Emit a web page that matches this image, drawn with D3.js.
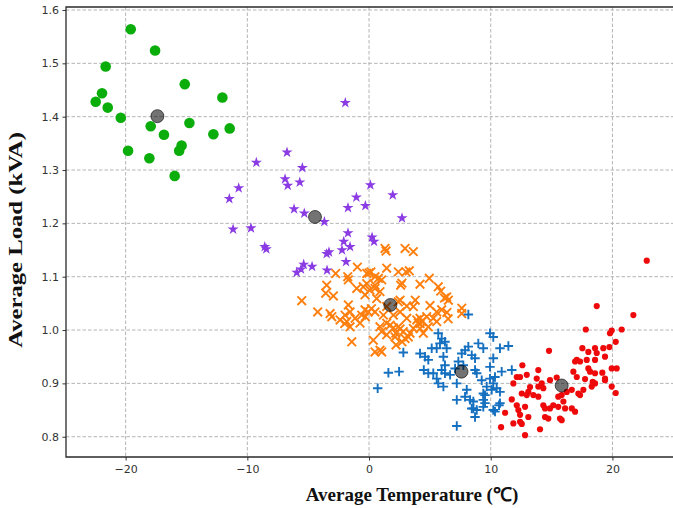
<!DOCTYPE html>
<html>
<head>
<meta charset="utf-8"/>
<title>Average load vs temperature clusters</title>
<script src="https://d3js.org/d3.v7.min.js"></script>
<style>
  body { margin: 0; background: #fff; }
  .tick text { font-family: "DejaVu Sans", sans-serif; font-size: 11px; fill: #333; }
  .axlabel { font-family: "Liberation Serif", "Times New Roman", serif; font-weight: bold; font-size: 19px; fill: #111; }
</style>
</head>
<body>
<svg width="673" height="508"></svg>
<script>
// tick values
var xTicks = [-20, -10, 0, 10, 20];
var yTicks = [0.8, 0.9, 1.0, 1.1, 1.2, 1.3, 1.4, 1.5, 1.6];

// cluster points [temperature, load]
var greenPts = [[-19.58,1.564],[-17.58,1.524],[-21.64,1.494],[-15.14,1.461],[-12.05,1.436],[-21.94,1.444],
  [-22.46,1.428],[-21.47,1.417],[-20.40,1.398],[-17.94,1.382],[-14.76,1.388],[-16.85,1.366],[-12.79,1.367],
  [-11.45,1.378],[-15.40,1.346],[-15.60,1.336],[-19.80,1.336],[-18.05,1.322],[-15.97,1.289]];

var purplePts = [[-1.95,1.426],[-6.74,1.333],[-9.26,1.314],[-5.48,1.304],[-6.90,1.283],[-6.68,1.271],[-5.69,1.277],
  [-10.71,1.266],[-11.48,1.246],[0.11,1.272],[1.95,1.253],[-1.04,1.249],[-0.30,1.233],[-1.73,1.229],[-6.16,1.227],
  [-5.32,1.219],[-3.67,1.203],[2.71,1.210],[-11.17,1.189],[-9.70,1.191],[-1.73,1.182],[-2.08,1.166],[-1.56,1.156],
  [-2.22,1.150],[0.25,1.174],[0.41,1.166],[-8.57,1.156],[-8.44,1.152],[-3.48,1.143],[-3.29,1.146],[-1.89,1.128],
  [-5.37,1.123],[-4.68,1.119],[-5.59,1.114],[-5.94,1.108],[-3.45,1.112]];

var orangePts = [[-0.96,1.118],[-2.74,1.106],[-1.75,1.100],[-1.70,1.094],[-1.01,1.078],[-0.19,1.106],[0.16,1.109],
  [0.49,1.100],[-3.48,1.084],[-3.56,1.069],[-2.93,1.064],[-5.53,1.055],[-0.33,1.066],[0.08,1.075],[0.49,1.084],
  [0.90,1.072],[0.63,1.059],[-1.70,1.047],[-4.22,1.034],[-3.20,1.031],[-3.06,1.025],[-1.97,1.028],[-1.56,1.034],
  [-0.33,1.038],[-0.06,1.034],[0.49,1.034],[-2.38,1.019],[-1.83,1.016],[-1.56,1.006],[-1.15,1.022],[-0.60,1.028],
  [-1.42,0.978],[0.35,0.981],[0.49,0.959],[0.90,0.962],[1.04,0.997],
  [1.31,1.153],[1.40,1.148],[2.96,1.153],[3.64,1.147],[1.45,1.116],[2.41,1.109],[3.31,1.111],[1.04,1.094],
  [2.60,1.084],[4.19,1.086],[4.95,1.097],[5.69,1.081],[5.89,1.073],[6.38,1.062],[6.52,1.056],[2.55,1.056],
  [3.64,1.044],[5.01,1.046],[5.56,1.034],[5.97,1.038],[7.62,1.041],[7.62,1.031],[1.45,1.044],[1.18,1.028],
  [2.00,1.028],[2.55,1.034],[3.10,1.022],[4.19,1.022],[4.05,1.013],[4.33,1.016],[4.74,1.025],[5.28,1.022],
  [1.73,1.009],[2.41,1.006],[2.82,0.997],[3.37,0.994],[3.64,1.003],[1.45,0.991],[2.14,0.987],[2.96,0.984],
  [1.04,0.959],[4.87,1.006],[2.22,0.972],[2.71,0.978],[5.56,1.016],
  [6.40,1.033],[6.50,1.021],[6.20,1.060],[3.92,1.019],[4.19,1.003],[3.23,0.987],[4.46,0.994],[4.20,1.012],
  [0.90,1.006],[1.45,1.013],[2.00,1.004],[2.55,1.002],[2.20,0.994],[-0.74,1.013],[-2.00,1.012],[0.20,1.040],
  [-0.30,1.025],[2.40,1.053],[3.10,1.045],[3.80,1.056],[2.70,1.088],[0.77,1.097],[-0.19,1.087],[-0.47,1.081],
  [0.49,1.078],[0.00,1.107],[3.04,1.109]];

var bluePts = [[5.69,0.994],[5.97,0.984],[6.24,0.978],[5.83,0.975],[5.56,0.966],[2.82,0.958],[4.19,0.956],
  [4.60,0.950],[4.87,0.944],[5.15,0.966],[6.38,0.966],[6.11,0.950],[1.59,0.920],[2.47,0.922],[0.71,0.891],
  [4.87,0.919],[5.28,0.919],[5.56,0.909],[5.97,0.925],[6.24,0.919],[6.66,0.916],[6.24,0.934],[7.07,0.928],
  [5.69,0.900],[6.11,0.894],[7.21,0.900],[8.03,0.888],[7.75,0.934],[7.89,0.962],[8.16,0.969],[7.62,0.956],
  [7.34,0.941],[8.44,0.953],[8.98,0.975],[9.39,0.966],[8.71,0.947],[8.71,0.925],[8.85,0.919],[9.26,0.906],
  [9.94,0.994],[10.21,0.987],[9.94,0.931],[10.21,0.947],[10.35,0.912],[9.67,0.894],[7.89,0.875],[8.30,0.869],
  [8.57,0.866],[7.21,0.869],[9.39,0.869],[9.53,0.878],[8.44,0.853],[8.85,0.850],[8.71,0.837],[9.39,0.856],
  [10.21,0.850],[10.08,0.888],[7.21,0.820],[8.16,1.029],[11.45,0.970],[11.73,0.925],[10.90,0.922],[10.76,0.966],
  [9.94,0.909],[10.21,0.900],[10.49,0.891],[10.76,0.884],[9.39,0.881],[9.53,0.863],[10.76,0.863],[8.57,0.853],
  [10.68,0.859],[4.50,0.925],[10.35,0.847]];

var redPts = [[18.71,1.045],[21.72,1.028],[17.81,1.001],[19.80,0.994],[19.94,0.999],[20.76,1.001],[20.27,0.978],
  [14.79,0.961],[17.53,0.966],[18.02,0.959],[18.57,0.966],[18.71,0.957],[19.25,0.966],[19.75,0.968],[19.39,0.950],
  [17.07,0.944],[16.93,0.941],[17.34,0.941],[17.89,0.944],[18.57,0.944],[19.94,0.928],[20.35,0.928],[16.79,0.922],
  [18.02,0.928],[18.16,0.922],[18.57,0.919],[19.17,0.920],[19.39,0.909],[19.39,0.906],[17.07,0.912],[17.75,0.908],
  [18.38,0.903],[18.57,0.900],[12.60,0.934],[13.91,0.925],[12.14,0.912],[12.41,0.912],[12.96,0.916],[13.78,0.909],
  [14.87,0.906],[15.42,0.911],[11.86,0.900],[13.23,0.893],[13.09,0.884],[13.91,0.894],[14.32,0.891],[14.19,0.900],
  [12.55,0.881],[12.96,0.878],[13.50,0.878],[13.91,0.875],[11.73,0.870],[16.25,0.884],[16.66,0.888],[17.20,0.881],
  [17.34,0.878],[17.61,0.888],[18.30,0.894],[19.94,0.894],[20.27,0.882],[15.55,0.875],[15.83,0.878],[15.97,0.866],
  [12.14,0.859],[12.27,0.850],[12.82,0.856],[14.32,0.859],[14.46,0.853],[14.87,0.853],[15.14,0.859],[15.55,0.856],
  [16.11,0.853],[16.66,0.853],[16.93,0.847],[11.18,0.845],[12.41,0.841],[13.09,0.837],[14.46,0.837],[14.73,0.834],
  [15.69,0.834],[15.83,0.831],[11.86,0.825],[12.55,0.824],[12.41,0.828],[10.85,0.818],[14.05,0.814],[12.82,0.803],
  [22.82,1.130]];

// cluster centres
var centres = [[-17.39,1.401],[-4.44,1.212],[1.75,1.047],[7.60,0.922],[15.83,0.896]];

var svg = d3.select("svg");
var plotL = 66, plotR = 674.5, plotT = 7, plotB = 457;

var xs = d3.scaleLinear().domain([-24.9, 25.1]).range([plotL, plotR]);
var ys = d3.scaleLinear().domain([0.762, 1.6056]).range([plotB, plotT]);

// grid
var grid = svg.append("g");
grid.selectAll(".gx").data(xTicks).enter().append("line")
  .attr("x1", function(d){ return xs(d); }).attr("x2", function(d){ return xs(d); })
  .attr("y1", plotT).attr("y2", plotB)
  .attr("stroke", "#b4b4b4").attr("stroke-dasharray", "3.5,2").attr("stroke-width", 1);
grid.selectAll(".gy").data(yTicks).enter().append("line")
  .attr("y1", function(d){ return ys(d); }).attr("y2", function(d){ return ys(d); })
  .attr("x1", plotL).attr("x2", plotR)
  .attr("stroke", "#b4b4b4").attr("stroke-dasharray", "3.5,2").attr("stroke-width", 1);

// markers
var g = svg.append("g");

g.selectAll(".orange").data(orangePts).enter().append("path")
  .attr("d", "M-4.3,-4.3L4.3,4.3M-4.3,4.3L4.3,-4.3")
  .attr("transform", function(d){ return "translate(" + xs(d[0]) + "," + ys(d[1]) + ")"; })
  .attr("stroke", "#ff7f0e").attr("stroke-width", 1.9).attr("fill", "none");

g.selectAll(".blue").data(bluePts).enter().append("path")
  .attr("d", "M-4.7,0L4.7,0M0,-4.7L0,4.7")
  .attr("transform", function(d){ return "translate(" + xs(d[0]) + "," + ys(d[1]) + ")"; })
  .attr("stroke", "#1570c0").attr("stroke-width", 1.9).attr("fill", "none");

g.selectAll(".red").data(redPts).enter().append("circle")
  .attr("cx", function(d){ return xs(d[0]); }).attr("cy", function(d){ return ys(d[1]); })
  .attr("r", 3.1).attr("fill", "#ee0a0a");

var star = d3.symbol().type(d3.symbolStar).size(38);
g.selectAll(".purple").data(purplePts).enter().append("path")
  .attr("d", star)
  .attr("transform", function(d){ return "translate(" + xs(d[0]) + "," + ys(d[1]) + ")"; })
  .attr("fill", "#8a3be3");

g.selectAll(".green").data(greenPts).enter().append("circle")
  .attr("cx", function(d){ return xs(d[0]); }).attr("cy", function(d){ return ys(d[1]); })
  .attr("r", 5.3).attr("fill", "#0aad0a");

g.selectAll(".centre").data(centres).enter().append("circle")
  .attr("cx", function(d){ return xs(d[0]); }).attr("cy", function(d){ return ys(d[1]); })
  .attr("r", 6.5).attr("fill", "#000").attr("fill-opacity", 0.55)
  .attr("stroke", "#000").attr("stroke-opacity", 0.6).attr("stroke-width", 1);

// axes
var xAxis = d3.axisBottom(xs).tickValues(xTicks).tickSizeOuter(0).tickSize(3.5).tickPadding(5)
  .tickFormat(function(d){ return d < 0 ? "\u2212" + Math.abs(d) : d; });
var yAxis = d3.axisLeft(ys).tickValues(yTicks).tickSizeOuter(0).tickSize(3.5).tickPadding(3.5)
  .tickFormat(d3.format(".1f"));

var gx = svg.append("g").attr("transform", "translate(0," + plotB + ")").call(xAxis);
var gy = svg.append("g").attr("transform", "translate(" + plotL + ",0)").call(yAxis);
gx.select(".domain").remove();
gy.select(".domain").remove();
svg.selectAll(".tick line").attr("stroke", "#333");
svg.selectAll(".tick text").attr("font-family", null).attr("font-size", null);

// frame (top, left, bottom)
svg.append("path")
  .attr("d", "M" + (plotR + 5) + "," + plotT + "H" + plotL + "V" + plotB + "H" + (plotR + 5))
  .attr("fill", "none").attr("stroke", "#2a2a2a").attr("stroke-width", 1.3);

// axis titles
svg.append("text").attr("class", "axlabel")
  .attr("text-anchor", "middle")
  .attr("x", 412).attr("y", 501)
  .text("Average Temperature (\u2103)");

svg.append("text").attr("class", "axlabel")
  .attr("text-anchor", "middle")
  .attr("transform", "translate(22,240)rotate(-90)scale(1.3,1)")
  .text("Average Load (kVA)");
</script>
</body>
</html>
